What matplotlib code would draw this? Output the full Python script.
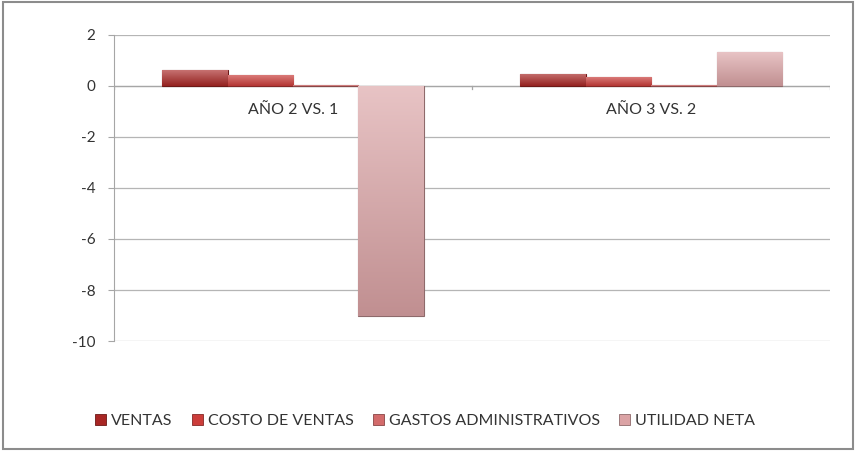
import numpy as np
import matplotlib.pyplot as plt
from matplotlib.patches import Rectangle
from matplotlib.colors import to_rgb

plt.rcParams['font.family'] = ['Lato', 'DejaVu Sans']

categories = ['AÑO 2 VS. 1', 'AÑO 3 VS. 2']
series = ['VENTAS', 'COSTO DE VENTAS', 'GASTOS ADMINISTRATIVOS', 'UTILIDAD NETA']
ventas = [0.62, 0.48]
costo_ventas = [0.45, 0.36]
gastos_admin = [0.03, 0.03]
utilidad_neta = [-9.0, 1.33]
y_ticks = [2, 0, -2, -4, -6, -8, -10]

values = [ventas, costo_ventas, gastos_admin, utilidad_neta]
colors = ['#a82624', '#cc3d3a', '#d36b6b', '#dba3a5']


def shade(color, f):
    c = np.array(to_rgb(color))
    if f >= 0:
        return tuple(c + (1 - c) * f)
    return tuple(c * (1 + f))


def gradient_bar(ax, x, w, h, color):
    # bar body with a soft vertical gradient, lighter at the top edge
    bottom, top = (0, h) if h >= 0 else (h, 0)
    rect = Rectangle((x, bottom), w, top - bottom, facecolor=color,
                     edgecolor=shade(color, -0.35), linewidth=0.8, zorder=3)
    ax.add_patch(rect)
    n = 64
    t = np.linspace(0, 1, n)[:, None]
    light = np.array(shade(color, 0.35))
    dark = np.array(shade(color, -0.12))
    grad = dark * (1 - t[..., None]) + light * t[..., None]
    grad = np.repeat(grad, 2, axis=1)
    im = ax.imshow(grad, extent=(x, x + w, bottom, top), origin='lower',
                   aspect='auto', zorder=3, interpolation='bilinear')
    im.set_clip_path(rect)
    return rect


fig = plt.figure(figsize=(8.55, 4.51), dpi=100)
ax = fig.add_axes([0.1333, 0.2439, 0.8377, 0.6785])

x = np.arange(len(categories))
width = 0.73 / len(series)
handles = []
for i, (vals, col) in enumerate(zip(values, colors)):
    for j, v in enumerate(vals):
        gradient_bar(ax, x[j] + (i - 1.5) * width - width / 2, width, v, col)
    handles.append(Rectangle((0, 0), 1, 1, facecolor=col,
                             edgecolor=shade(col, -0.35), linewidth=0.6))

ax.set_xlim(-0.5, 1.5)
ax.set_ylim(-10, 2)
ax.set_yticks(y_ticks)
ax.set_yticklabels([str(t) for t in y_ticks], fontsize=11, color='#333333')
ax.set_xticks([])
ax.yaxis.grid(True, color='#b5b5b5', linewidth=0.9)
ax.set_axisbelow(True)
for s in ['top', 'right', 'bottom']:
    ax.spines[s].set_visible(False)
ax.spines['left'].set_color('#a6a6a6')
ax.tick_params(axis='y', length=4.5, color='#a6a6a6', pad=9)

# horizontal axis at zero with category divisions
ax.axhline(0, color='#a6a6a6', linewidth=0.9, zorder=2)
for b in [-0.5, 0.5, 1.5]:
    ax.plot([b, b], [0, -0.12], color='#a6a6a6', linewidth=0.9, zorder=2)
for j, cat in enumerate(categories):
    ax.text(x[j], -0.95, cat, ha='center', va='center', fontsize=11.5,
            color='#333333')

fig.legend(handles, series, loc='center', bbox_to_anchor=(0.497, 0.066),
           ncol=4, frameon=False, fontsize=11.5, handlelength=0.7,
           handleheight=0.7, handletextpad=0.3, columnspacing=1.2,
           labelcolor='#333333')

fig.patches.append(Rectangle((0.004, 0.004), 0.994, 0.992,
                             transform=fig.transFigure, fill=False,
                             edgecolor='#8c8c8c', linewidth=1.5))

fig.savefig('out.png', dpi=100)
